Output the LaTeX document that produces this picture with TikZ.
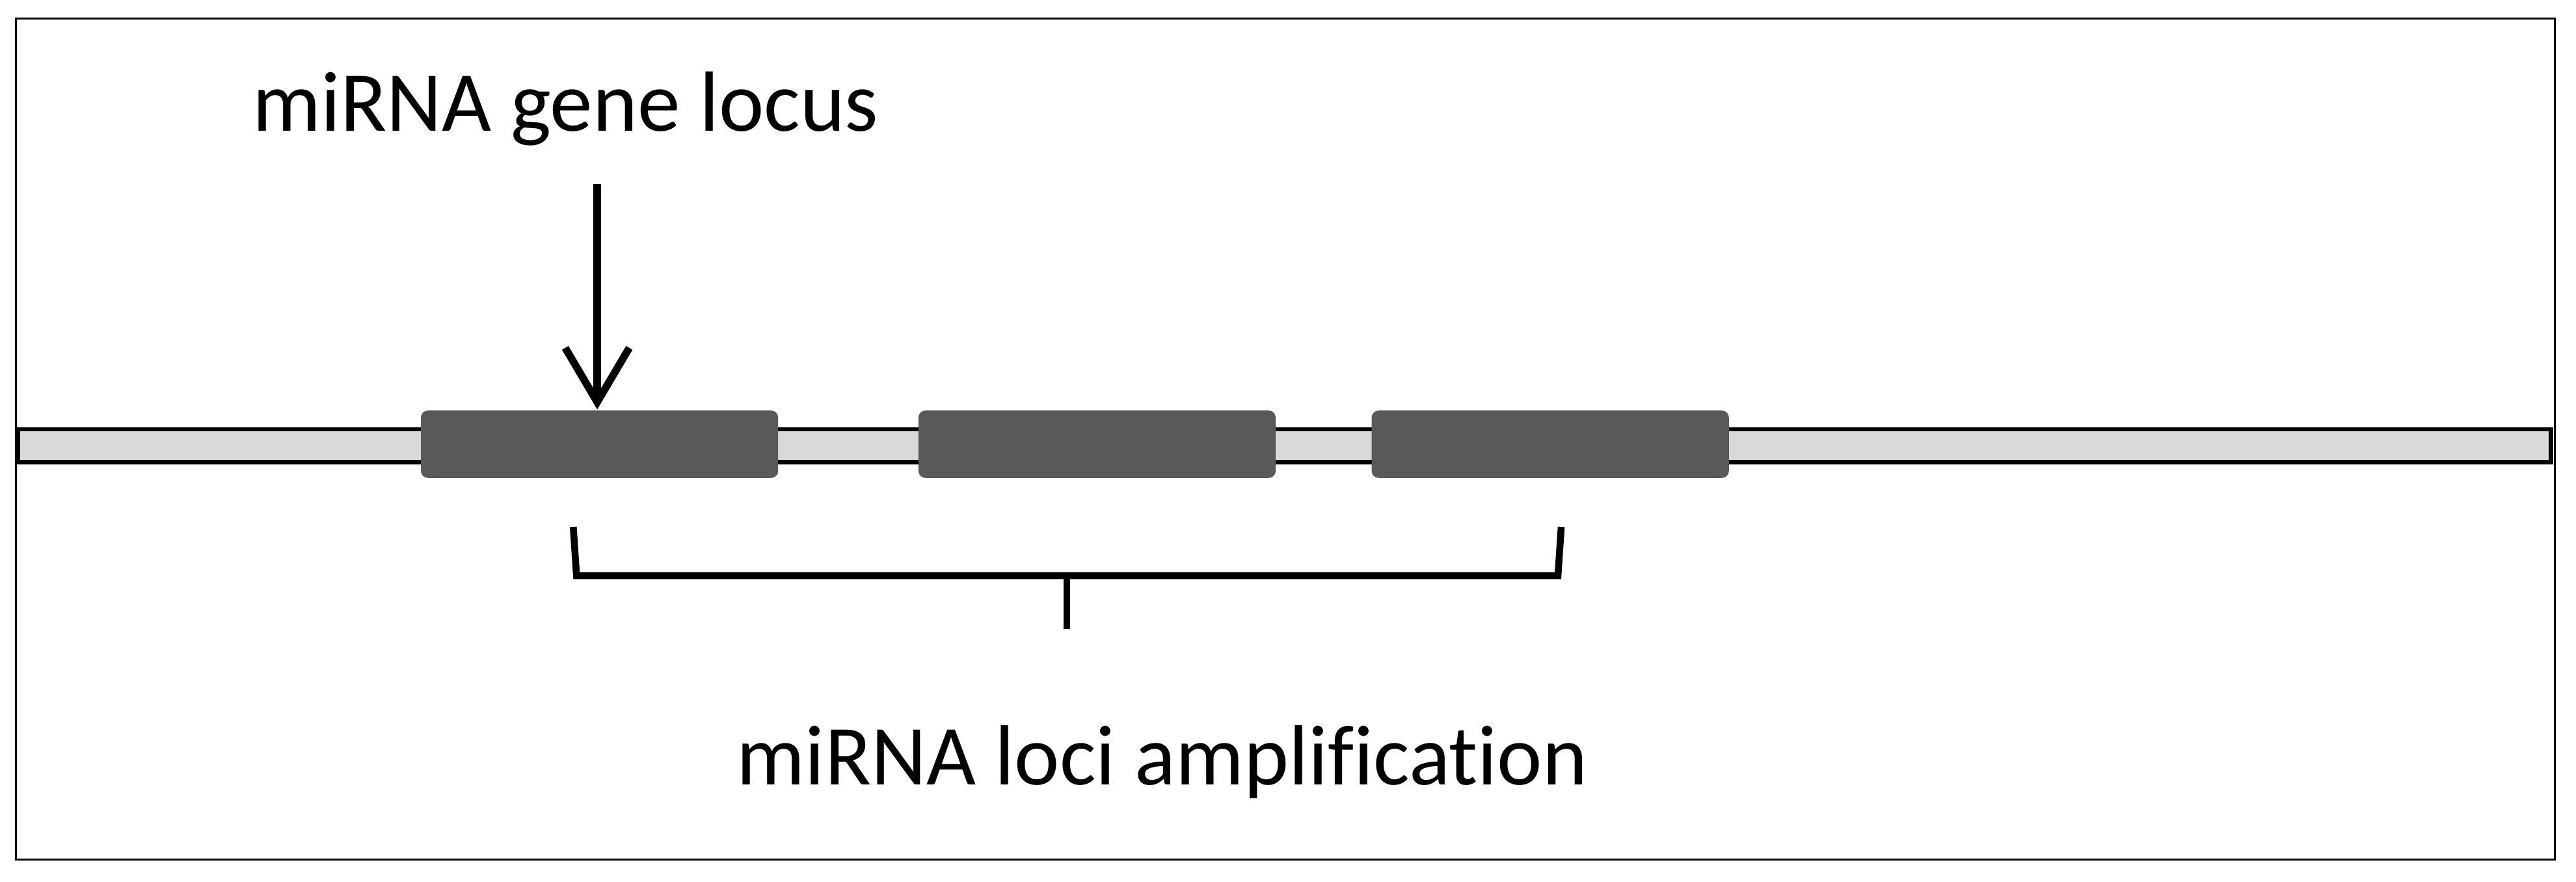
\documentclass[tikz,border=0pt]{standalone}
\usepackage{fontspec}
\setmainfont{Carlito}[Ligatures=NoCommon]
\usepackage{tikz}
\usetikzlibrary{positioning, arrows.meta}

\begin{document}
\begin{tikzpicture}[
        node distance=0.84cm,
        frame/.style={draw, line width=0.35pt},
        chromosome/.style={draw, line width=0.75pt, fill=black!15, inner sep=0pt, minimum width=15.42cm, minimum height=0.2cm},
        locus/.style={fill=black!65, rounded corners=1.2pt, inner sep=0pt, minimum width=2.175cm, minimum height=0.41cm},
        label/.style={inner sep=0pt, anchor=base west, font=\fontsize{14.8}{17}\selectfont},
        arrow/.style={-{Straight Barb[length=3.3mm, width=3.9mm]}, line width=1.3pt},
        brace/.style={line width=1.2pt, line join=miter}
    ]
        \useasboundingbox (0,0) rectangle (15.683,5.370);
        \draw[frame] (0.097,0.135) rectangle (15.555,5.256);

        % Chromosome with the three loci
        \node[chromosome] (chrom) at (7.82,2.656) {};
        \node[locus] (box1) at (3.65,2.665) {};
        \node[locus, right=of box1] (box2) {};
        \node[locus, right=0.57cm of box2] (box3) {};

        % Labels
        \node[label] (geneLocus) at (1.53,4.57) {miRNA gene locus};
        \node[label] (amplification) at (4.48,0.59) {miRNA loci amplification};

        % Arrow onto the first locus
        \coordinate (arrowTop) at (3.636,4.25);
        \draw[arrow] (arrowTop) -- (arrowTop |- box1.north);

        % Brace under the loci
        \coordinate (braceL) at (3.49,2.162);
        \coordinate (braceR) at (9.505,2.162);
        \coordinate (braceMid) at (6.495,1.865);
        \draw[brace] (braceL) -- (3.51,1.865) -- (9.485,1.865) -- (braceR);
        \draw[brace] (braceMid) -- (6.495,1.54);
\end{tikzpicture}
\end{document}
